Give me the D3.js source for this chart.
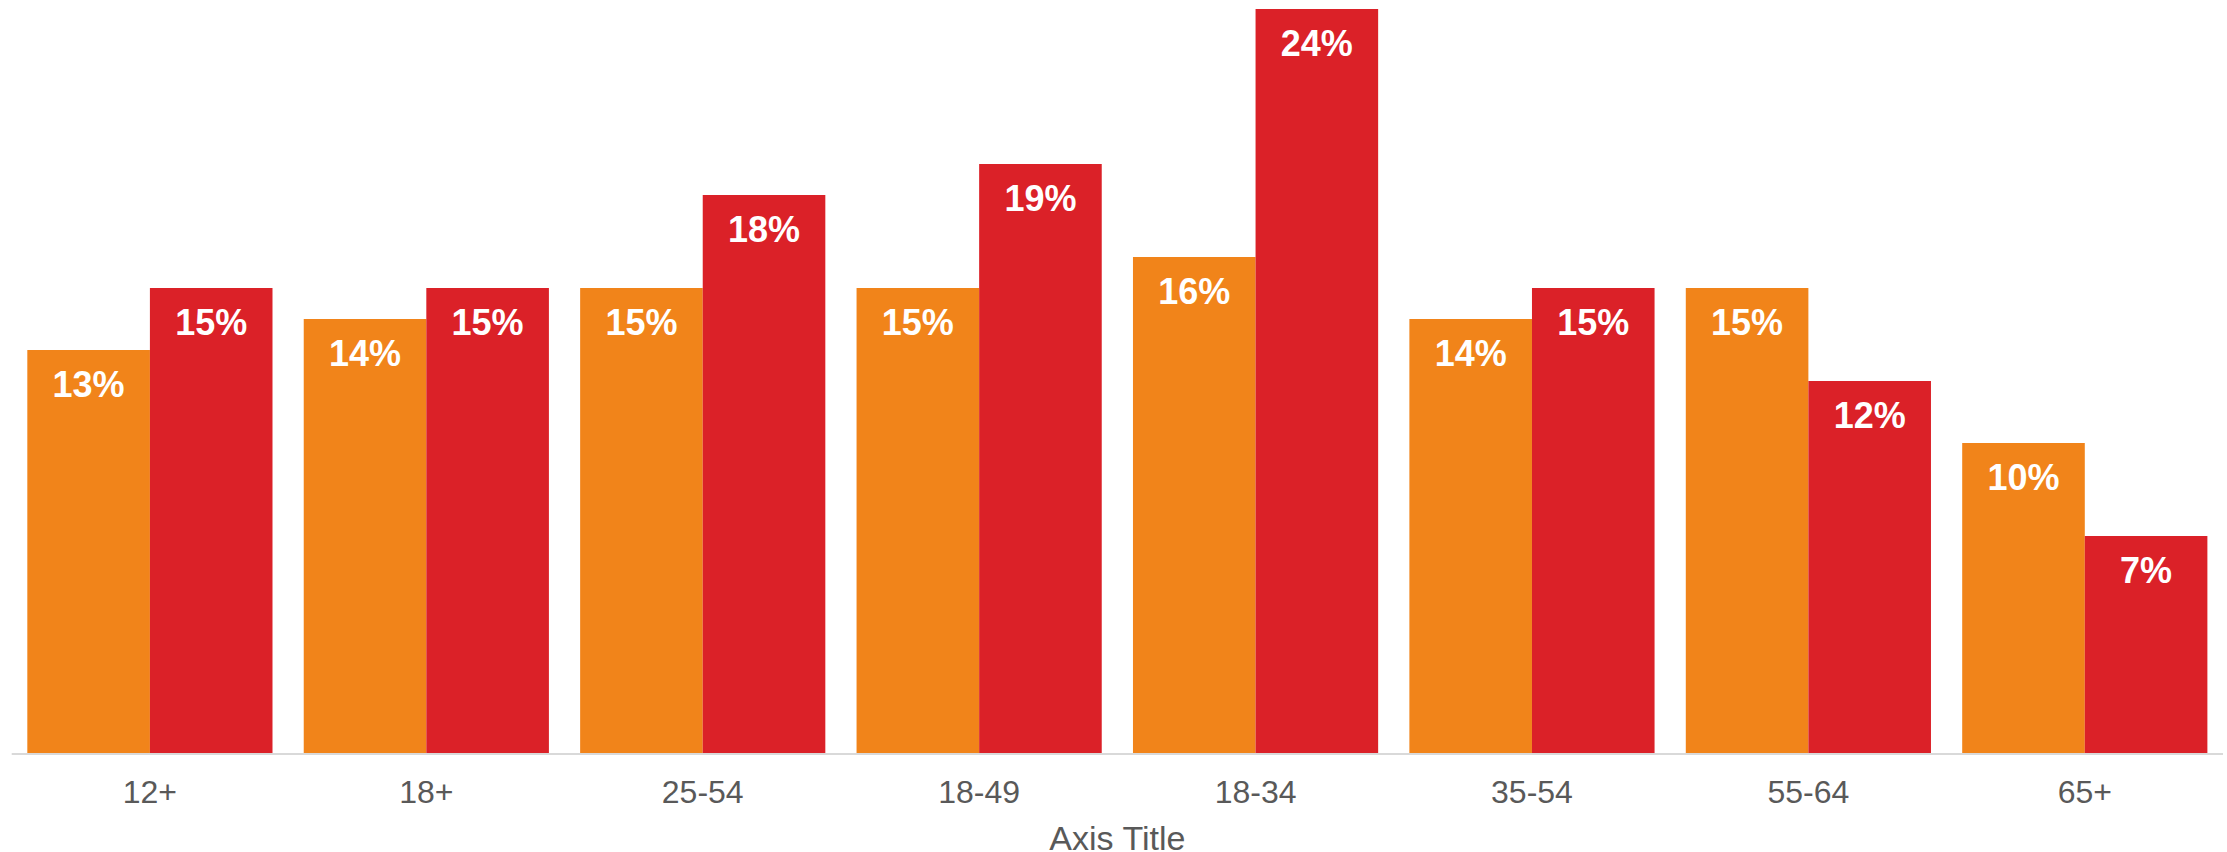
<!DOCTYPE html>
<html>
<head>
<meta charset="utf-8">
<script src="https://cdn.jsdelivr.net/npm/d3@7"></script>
<style>
  html, body { margin: 0; padding: 0; background: #ffffff; }
  svg { display: block; }
</style>
</head>
<body>
<svg id="chart" width="2227" height="852"></svg>
<script>
// Age groups along the x axis
const categories = ["12+", "18+", "25-54", "18-49", "18-34", "35-54", "55-64", "65+"];
// Two series, values in percent
const seriesA = [13, 14, 15, 15, 16, 14, 15, 10];
const seriesB = [15, 15, 18, 19, 24, 15, 12, 7];
const seriesColors = ["#F1841A", "#DB2128"];
const axisTitle = "Axis Title";

const svg = d3.select("#chart");
const W = 2227, H = 852;
const plot = { left: 11.7, right: 2223, top: 9, bottom: 753 };

const x0 = d3.scaleBand()
  .domain(categories)
  .range([plot.left, plot.right])
  .paddingInner(0.113)
  .paddingOuter(0.0565);

const x1 = d3.scaleBand()
  .domain([0, 1])
  .range([0, x0.bandwidth()])
  .padding(0);

const y = d3.scaleLinear()
  .domain([0, 24])
  .range([plot.bottom, plot.top]);

const rows = categories.map((c, i) => ({ cat: c, vals: [seriesA[i], seriesB[i]] }));

const groups = svg.append("g")
  .selectAll("g")
  .data(rows)
  .join("g")
  .attr("transform", d => `translate(${x0(d.cat)},0)`);

const cells = groups.selectAll("g.cell")
  .data(d => d.vals.map((v, k) => ({ v, k })))
  .join("g")
  .attr("class", "cell");

cells.append("rect")
  .attr("x", d => x1(d.k))
  .attr("width", x1.bandwidth())
  .attr("y", d => y(d.v))
  .attr("height", d => y(0) - y(d.v))
  .attr("fill", d => seriesColors[d.k]);

cells.append("text")
  .attr("x", d => x1(d.k) + x1.bandwidth() / 2)
  .attr("y", d => y(d.v) + 47)
  .attr("text-anchor", "middle")
  .attr("fill", "#ffffff")
  .attr("font-family", "'Liberation Sans', Arial, sans-serif")
  .attr("font-weight", "bold")
  .attr("font-size", 36)
  .text(d => d.v + "%");

// Category axis
const xAxis = d3.axisBottom(x0).tickSize(0).tickPadding(0);
const axisG = svg.append("g")
  .attr("transform", `translate(0,${y(0)})`)
  .call(xAxis);
axisG.select(".domain")
  .attr("d", `M${plot.left},1H${plot.right}`)
  .attr("stroke", "#D9D9D9")
  .attr("stroke-width", 2);
axisG.selectAll(".tick text")
  .attr("y", 50)
  .attr("dy", null)
  .attr("fill", "#595959")
  .attr("font-family", "'Liberation Sans', Arial, sans-serif")
  .attr("font-size", 32);

svg.append("text")
  .attr("x", (plot.left + plot.right) / 2)
  .attr("y", 850)
  .attr("text-anchor", "middle")
  .attr("fill", "#595959")
  .attr("font-family", "'Liberation Sans', Arial, sans-serif")
  .attr("font-size", 34)
  .text(axisTitle);
</script>
</body>
</html>
